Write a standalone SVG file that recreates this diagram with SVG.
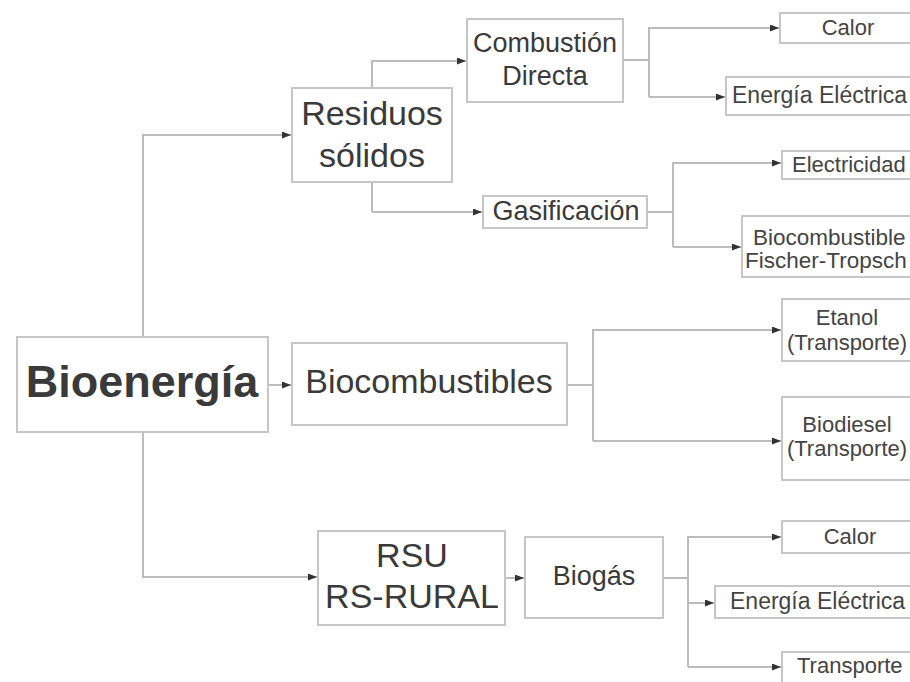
<svg xmlns="http://www.w3.org/2000/svg" width="910" height="682" viewBox="0 0 910 682">
  <style>
    .box { fill: #ffffff; stroke: #c6c6c6; stroke-width: 2; }
    .wire { fill: none; stroke: #bcbcbc; stroke-width: 2; }
    .lbl { font-family: "Liberation Sans", Arial, sans-serif; fill: #3a3a3a; }
    .big { font-size: 34px; }
    .mid { font-size: 27px; }
    .small { font-size: 22px; fill: #444444; }
    .wide { font-size: 23px; fill: #444444; }
    .ft { font-size: 22.5px; fill: #444444; }
    .c { text-anchor: middle; }
  </style>
  <defs>
    <marker id="tip" markerUnits="userSpaceOnUse" markerWidth="9" markerHeight="7" refX="9" refY="3.5" orient="auto">
      <path d="M0,0 L9,3.5 L0,7 z" fill="#333333"/>
    </marker>
  </defs>

  <rect width="910" height="682" fill="#ffffff"/>

  <!-- connectors -->
  <g id="connectors">
    <path class="wire" d="M143,337 V135 H291" marker-end="url(#tip)"/>
    <path class="wire" d="M143,432 V577 H317" marker-end="url(#tip)"/>
    <path class="wire" d="M268,385 H291" marker-end="url(#tip)"/>

    <path class="wire" d="M372,212 V61 H466" marker-end="url(#tip)"/>
    <path class="wire" d="M372,212 H482" marker-end="url(#tip)"/>

    <path class="wire" d="M623,60 H649"/>
    <path class="wire" d="M649,97 V28 H779" marker-end="url(#tip)"/>
    <path class="wire" d="M649,97 H725" marker-end="url(#tip)"/>

    <path class="wire" d="M647,212 H673"/>
    <path class="wire" d="M673,247 V163 H781" marker-end="url(#tip)"/>
    <path class="wire" d="M673,247 H741" marker-end="url(#tip)"/>

    <path class="wire" d="M567,385 H593"/>
    <path class="wire" d="M593,441 V330 H781" marker-end="url(#tip)"/>
    <path class="wire" d="M593,441 H781" marker-end="url(#tip)"/>

    <path class="wire" d="M505,578 H524" marker-end="url(#tip)"/>

    <path class="wire" d="M663,578 H688"/>
    <path class="wire" d="M688,667 V537 H781" marker-end="url(#tip)"/>
    <path class="wire" d="M688,603 H714" marker-end="url(#tip)"/>
    <path class="wire" d="M688,667 H781" marker-end="url(#tip)"/>
  </g>

  <!-- root -->
  <g id="bioenergia">
    <rect class="box" x="17" y="337" width="251" height="95"/>
    <text class="lbl c" x="142" y="397" font-size="45" font-weight="bold" fill="#262626">Bioenergía</text>
  </g>

  <!-- first level -->
  <g id="residuos">
    <rect class="box" x="292" y="88" width="160" height="94"/>
    <text class="lbl big c" x="372" y="125">Residuos</text>
    <text class="lbl big c" x="372" y="167">sólidos</text>
  </g>
  <g id="biocombustibles">
    <rect class="box" x="292" y="343" width="275" height="82"/>
    <text class="lbl big c" x="429" y="393">Biocombustibles</text>
  </g>
  <g id="rsu">
    <rect class="box" x="318" y="531" width="187" height="94"/>
    <text class="lbl big c" x="412" y="567">RSU</text>
    <text class="lbl big c" x="412" y="608">RS-RURAL</text>
  </g>

  <!-- processes -->
  <g id="combustion">
    <rect class="box" x="467" y="19" width="156" height="83"/>
    <text class="lbl mid c" x="545" y="52">Combustión</text>
    <text class="lbl mid c" x="545" y="85">Directa</text>
  </g>
  <g id="gasificacion">
    <rect class="box" x="483" y="196" width="164" height="32"/>
    <text class="lbl mid c" x="566" y="220">Gasificación</text>
  </g>
  <g id="biogas">
    <rect class="box" x="525" y="537" width="138" height="81"/>
    <text class="lbl mid c" x="594" y="585">Biogás</text>
  </g>

  <!-- products -->
  <g id="calor-1">
    <rect class="box" x="780" y="13" width="135" height="30"/>
    <text class="lbl small c" x="848" y="35">Calor</text>
  </g>
  <g id="energia-1">
    <rect class="box" x="726" y="77" width="189" height="38"/>
    <text class="lbl wide" x="732" y="103">Energía Eléctrica</text>
  </g>
  <g id="electricidad">
    <rect class="box" x="782" y="151" width="133" height="28"/>
    <text class="lbl small" x="792" y="172">Electricidad</text>
  </g>
  <g id="fischer-tropsch">
    <rect class="box" x="742" y="216" width="173" height="61"/>
    <text class="lbl ft" x="753" y="245">Biocombustible</text>
    <text class="lbl ft" x="745" y="268">Fischer-Tropsch</text>
  </g>
  <g id="etanol">
    <rect class="box" x="782" y="299" width="133" height="62"/>
    <text class="lbl small c" x="847" y="325">Etanol</text>
    <text class="lbl small c" x="847" y="350">(Transporte)</text>
  </g>
  <g id="biodiesel">
    <rect class="box" x="782" y="397" width="133" height="83"/>
    <text class="lbl small c" x="847" y="432">Biodiesel</text>
    <text class="lbl small c" x="847" y="456">(Transporte)</text>
  </g>
  <g id="calor-2">
    <rect class="box" x="782" y="521" width="133" height="32"/>
    <text class="lbl small c" x="850" y="544">Calor</text>
  </g>
  <g id="energia-2">
    <rect class="box" x="715" y="586" width="200" height="32"/>
    <text class="lbl wide" x="730" y="609">Energía Eléctrica</text>
  </g>
  <g id="transporte">
    <rect class="box" x="782" y="652" width="133" height="40"/>
    <text class="lbl small" x="797" y="673">Transporte</text>
  </g>
</svg>
